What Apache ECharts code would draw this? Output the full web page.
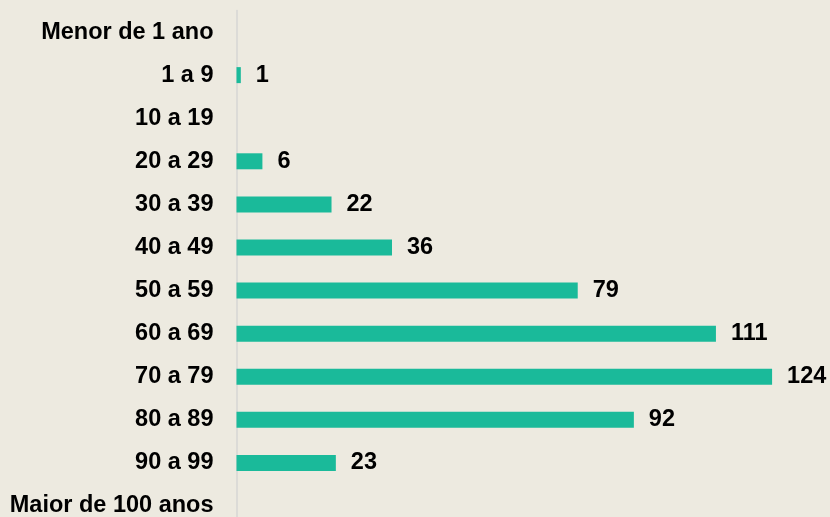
<!DOCTYPE html>
<html>
<head>
<meta charset="utf-8">
<script src="https://cdn.jsdelivr.net/npm/echarts@6/dist/echarts.min.js"></script>
<style>
html,body{margin:0;padding:0;background:#EDEAE0;}
#chart{width:830px;height:517px;}
</style>
</head>
<body>
<div id="chart"></div>
<script>
const categories = ["Menor de 1 ano","1 a 9","10 a 19","20 a 29","30 a 39","40 a 49","50 a 59","60 a 69","70 a 79","80 a 89","90 a 99","Maior de 100 anos"];
const values = [0,1,0,6,22,36,79,111,124,92,23,0];

const chart = echarts.init(document.getElementById('chart'), null, {renderer:'canvas'});
chart.setOption({
  backgroundColor:'#EDEAE0',
  animation:false,
  grid:{left:236.5, top:10.5, bottom:-10.5, right:32, containLabel:false, outerBoundsMode:'none'},
  xAxis:{type:'value', min:0, max:130, show:false},
  yAxis:{
    type:'category', data:categories, inverse:true,
    axisLine:{show:true, lineStyle:{color:'#D6D6D4', width:1.5}},
    axisTick:{show:false},
    axisLabel:{color:'#000', fontFamily:'Liberation Sans, Arial, sans-serif', fontWeight:'bold', fontSize:23.5, margin:23}
  },
  series:[{
    type:'bar', data:values, barWidth:16,
    itemStyle:{color:'#1ABA9A'},
    label:{show:true, position:'right', distance:15, color:'#000', fontFamily:'Liberation Sans, Arial, sans-serif', fontWeight:'bold', fontSize:23.5,
      formatter:p=>p.value===0?'':String(p.value)}
  }]
});
</script>
</body>
</html>
